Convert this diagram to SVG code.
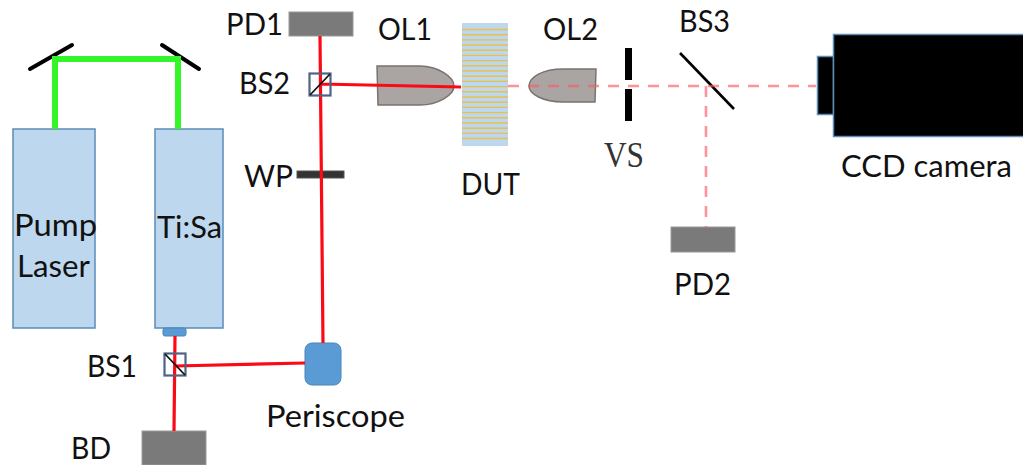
<svg xmlns="http://www.w3.org/2000/svg" width="1023" height="465" viewBox="0 0 1023 465">
<style>
text{font-family:"Lato","Open Sans","Liberation Sans",sans-serif;font-size:30px;fill:#111}
.laser{fill:#bdd7ee;stroke:#5b8db8;stroke-width:1.5}
.det{fill:#7a7a7a;stroke:#999;stroke-width:1}
.lens{fill:#aaa5a3;stroke:#77736f;stroke-width:1.5}
.cube{fill:none;stroke:#4f6384;stroke-width:2.2}
.mir{stroke:#000;stroke-width:4;fill:none;stroke-linecap:round}
.red{stroke:#fb0a16;stroke-width:3.2;fill:none}
.dash{stroke:#fb5a64;stroke-opacity:.65;stroke-width:2.6;stroke-dasharray:11 9;fill:none}
.grn{stroke:#33f52a;stroke-width:6;fill:none}
.y{stroke:#e9c04a;stroke-width:1.4}
.cam{fill:#000;stroke:#5b8db8;stroke-width:1.5}
.blue{fill:#5b9bd5;stroke:#4a85bb;stroke-width:1}
</style>
<g id="pump-laser"><rect class="laser" x="13" y="129" width="82" height="199"/><text x="14" y="236" textLength="83" lengthAdjust="spacingAndGlyphs">Pump</text><text x="17" y="277" textLength="73" lengthAdjust="spacingAndGlyphs">Laser</text></g>
<g id="tisa"><rect class="laser" x="155" y="129" width="68" height="199"/><rect class="blue" x="163" y="328" width="23" height="8" rx="2"/><text x="157" y="238" textLength="65" lengthAdjust="spacingAndGlyphs">Ti:Sa</text></g>
<g id="mirror-left"><line class="mir" x1="30" y1="69" x2="72" y2="45"/></g>
<g id="mirror-right"><line class="mir" x1="162" y1="45" x2="199" y2="69"/></g>
<g id="bd"><rect class="det" x="142" y="431" width="64" height="34"/><text x="71" y="459" textLength="40" lengthAdjust="spacingAndGlyphs">BD</text></g>
<g id="periscope"><rect class="blue" x="305" y="343" width="36" height="42" rx="7"/><text x="266" y="427" textLength="139" lengthAdjust="spacingAndGlyphs">Periscope</text></g>
<g id="pd1"><rect class="det" x="289" y="12" width="64" height="24"/><text x="226" y="35" textLength="57" lengthAdjust="spacingAndGlyphs">PD1</text></g>
<g id="wp"><rect x="297" y="171" width="47" height="7" fill="#333" stroke="#555"/><text x="244" y="187" textLength="49" lengthAdjust="spacingAndGlyphs">WP</text></g>
<g id="ol1"><path class="lens" d="M377 66H420C438 66 454 77 454 86C454 95 438 105 420 105H378Z"/><text x="378" y="40" textLength="54" lengthAdjust="spacingAndGlyphs">OL1</text></g>
<g id="dut"><rect x="462" y="23" width="46" height="123" fill="#bdd7ee"/>
<path class="y" d="M462 29.500H508M462 34.700H508M462 39.900H508M462 45H508M462 50.200H508M462 55.400H508M462 60.600H508M462 65.800H508M462 71H508M462 76.200H508M462 81.400H508M462 86.600H508M462 91.800H508M462 97H508M462 102.200H508M462 107.400H508M462 112.600H508M462 117.800H508M462 123H508M462 128.200H508M462 133.400H508M462 138.500H508"/>
<text x="461" y="195" textLength="59" lengthAdjust="spacingAndGlyphs">DUT</text></g>
<g id="ol2"><path class="lens" d="M596 69L595 102H563C543 102 529 94 529 86C529 77 543 69 563 69Z"/><text x="543" y="40" textLength="55" lengthAdjust="spacingAndGlyphs">OL2</text></g>
<g id="vs"><rect x="625" y="48" width="7" height="32"/><rect x="625" y="89" width="7" height="32"/><text x="604" y="167" textLength="40" lengthAdjust="spacingAndGlyphs" style="font-family:'Liberation Serif',serif;font-size:35px;fill:#333">VS</text></g>
<g id="bs3"><line x1="680" y1="53" x2="734" y2="109" stroke="#000" stroke-width="2.600"/><text x="679" y="32" textLength="51" lengthAdjust="spacingAndGlyphs">BS3</text></g>
<g id="pd2"><rect class="det" x="671" y="227" width="64" height="25"/><text x="674" y="295" textLength="57" lengthAdjust="spacingAndGlyphs">PD2</text></g>
<g id="ccd"><rect class="cam" x="817.500" y="56.500" width="16" height="58"/><rect class="cam" x="833.500" y="34.500" width="191" height="102"/><text x="841" y="177" textLength="171" lengthAdjust="spacingAndGlyphs">CCD camera</text></g>
<g id="connectors">
<path class="grn" d="M55 129V59H178V129"/>
<path class="red" d="M175 336L174 431M175 366L305 363M323 343L320 36M320 84L461 87"/>
<path class="dash" d="M508 86H816M706 86V227"/>
</g>
<g id="bs1"><rect class="cube" x="164.500" y="353.500" width="21" height="22"/><line x1="165" y1="354" x2="185" y2="375" stroke="#111" stroke-width="1.800"/><text x="87" y="377" textLength="50" lengthAdjust="spacingAndGlyphs">BS1</text></g>
<g id="bs2"><rect class="cube" x="309.500" y="73.500" width="21" height="22"/><line x1="310" y1="95" x2="330" y2="74" stroke="#111" stroke-width="1.800"/><text x="239" y="94" textLength="51" lengthAdjust="spacingAndGlyphs">BS2</text></g>
</svg>
